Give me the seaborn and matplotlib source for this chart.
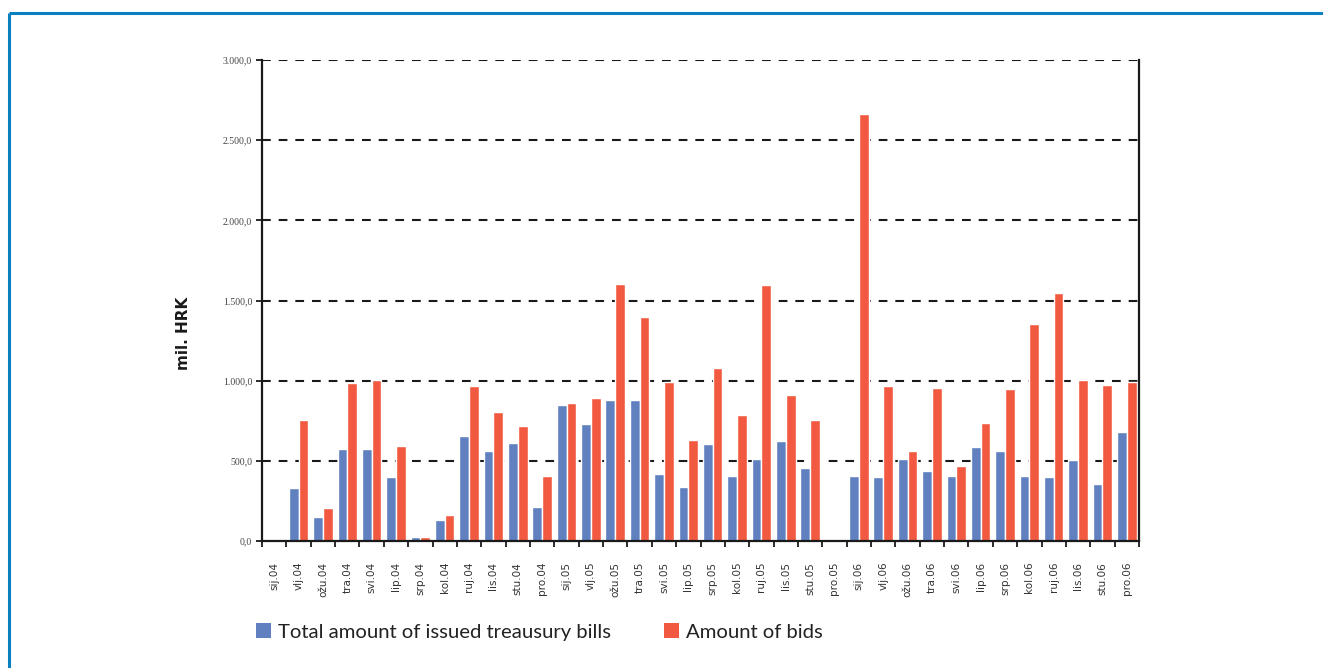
import matplotlib
matplotlib.use("Agg")
import matplotlib.pyplot as plt
import seaborn as sns
import pandas as pd
from matplotlib.lines import Line2D
from matplotlib.patches import Patch

months = ['sij.04', 'vlj.04', 'ožu.04', 'tra.04', 'svi.04', 'lip.04', 'srp.04', 'kol.04', 'ruj.04', 'lis.04', 'stu.04', 'pro.04',
          'sij.05', 'vlj.05', 'ožu.05', 'tra.05', 'svi.05', 'lip.05', 'srp.05', 'kol.05', 'ruj.05', 'lis.05', 'stu.05', 'pro.05',
          'sij.06', 'vlj.06', 'ožu.06', 'tra.06', 'svi.06', 'lip.06', 'srp.06', 'kol.06', 'ruj.06', 'lis.06', 'stu.06', 'pro.06']

issued = [0, 330, 150, 574, 572, 399, 25, 131, 655, 561, 611, 212,
          848, 730, 880, 880, 418, 337, 605, 405, 511, 624, 455, 0,
          405, 399, 511, 436, 405, 586, 561, 405, 399, 505, 355, 680]

bids = [0, 755, 206, 986, 1004, 593, 22, 162, 967, 805, 718, 406,
        861, 892, 1603, 1397, 992, 630, 1080, 786, 1597, 911, 755, 0,
        2664, 967, 561, 955, 468, 736, 949, 1354, 1547, 1004, 973, 992]

series_names = ['Total amount of issued treausury bills', 'Amount of bids']
y_ticks = [0, 500, 1000, 1500, 2000, 2500, 3000]
y_tick_labels = ['0,0', '500,0', '1.000,0', '1.500,0', '2.000,0', '2.500,0', '3.000,0']

colors = ['#6080c0', '#f15a40']

df = pd.DataFrame({'month': months, series_names[0]: issued, series_names[1]: bids})
long = df.melt(id_vars='month', var_name='series', value_name='value')

sns.set_style('white')
plt.rcParams['font.family'] = ['DejaVu Sans']

W, H = 1323, 668
fig = plt.figure(figsize=(W / 100, H / 100), dpi=100)
ax = fig.add_axes([262 / W, 1 - 541 / H, (1139 - 262) / W, (541 - 60) / H])

sns.barplot(data=long, x='month', y='value', hue='series', order=months,
            hue_order=series_names, palette=colors, width=0.8, saturation=1,
            ax=ax, legend=False, errorbar=None)

ax.set_xlim(-0.5, len(months) - 0.5)
ax.set_ylim(0, 3000)
ax.set_xlabel('')
ax.set_ylabel('')

# grid lines
for v in y_ticks[1:]:
    ax.axhline(v, color='#1a1a1a', lw=1.5, ls=(0, (4.2, 3.8)), zorder=0.5)

# spines
for s in ['left', 'bottom', 'right']:
    ax.spines[s].set_visible(True)
    ax.spines[s].set_color('#1a1a1a')
    ax.spines[s].set_linewidth(1.6)
ax.spines['top'].set_visible(False)

ax.set_yticks(y_ticks)
ax.set_yticklabels(y_tick_labels, family='Liberation Serif', fontsize=7, color='#444444')
ax.tick_params(axis='y', which='major', direction='out', length=4, width=1.3,
               color='#1a1a1a', left=True, pad=3)

ax.set_xticks(range(len(months)))
ax.set_xticklabels(months, rotation=90, fontsize=7.5, color='#333333')
ax.tick_params(axis='x', which='major', length=0, pad=15)
ax.set_xticks([i - 0.5 for i in range(len(months) + 1)], minor=True)
ax.tick_params(axis='x', which='minor', direction='out', length=4, width=1.3,
               color='#1a1a1a', bottom=True)

fig.text(183 / W, 1 - 333 / H, 'mil. HRK', rotation=90, fontsize=11,
         fontweight='bold', ha='center', va='center', color='#1a1a1a')

handles = [Patch(facecolor=colors[0], edgecolor='none'),
           Patch(facecolor=colors[1], edgecolor='none')]
fig.legend(handles, series_names, loc='center left',
           bbox_to_anchor=(256 / W, 1 - 632 / H), ncol=2, frameon=False,
           prop={'family': 'Lato', 'size': 14.6}, handlelength=0.75, handleheight=0.75,
           handletextpad=0.35, columnspacing=2.6, borderpad=0, borderaxespad=0,
           labelcolor='#222222')

# blue frame
fc = '#0a80c0'
fig.add_artist(Line2D([9 / W, 1], [1 - 13 / H, 1 - 13 / H], color=fc, lw=2.2,
                      transform=fig.transFigure, solid_capstyle='butt'))
fig.add_artist(Line2D([9 / W, 9 / W], [1 - 13 / H, 0], color=fc, lw=2.2,
                      transform=fig.transFigure, solid_capstyle='butt'))

fig.savefig('out.png', dpi=100, facecolor='white')
